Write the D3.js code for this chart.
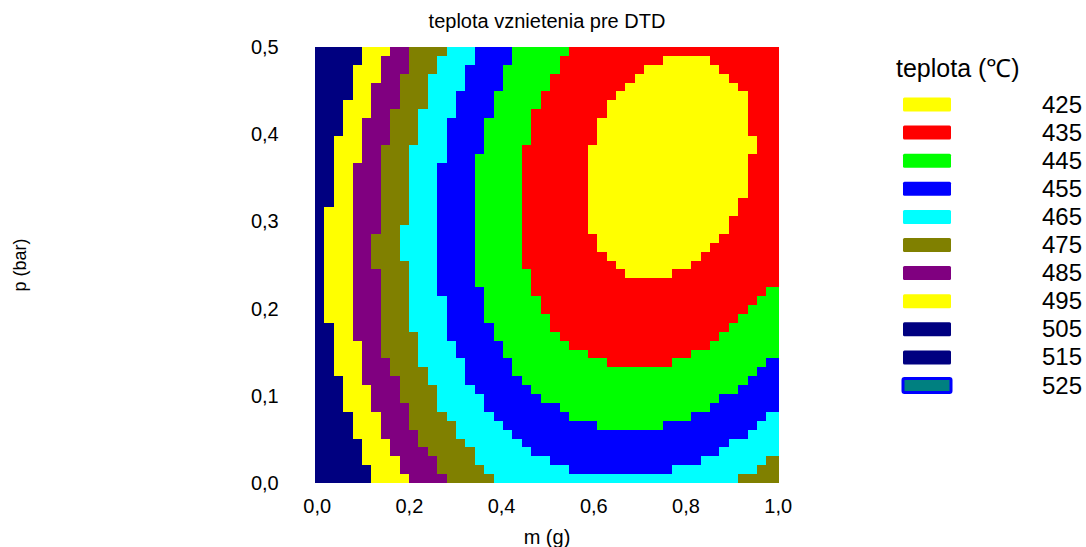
<!DOCTYPE html>
<html><head><meta charset="utf-8">
<script src="https://cdn.jsdelivr.net/npm/d3@7"></script>
<style>body{margin:0;background:#fff} text{font-family:"Liberation Sans",Arial,sans-serif;fill:#000}</style>
</head><body><svg id="c" width="1086" height="547"></svg>
<script>
// Legend levels and colours
const levels = [425,435,445,455,465,475,485,495,505,515,525];
const levelColors = ["#ffff00","#ff0000","#00ff00","#0000ff","#00ffff","#808000","#800080","#ffff00","#000080","#000080","#008080"];
// fill colour of band 0 (coolest, centre) .. band 8 (hottest, left edge)
const bandColors = ["#ffff00","#ff0000","#00ff00","#0000ff","#00ffff","#808000","#800080","#ffff00","#000080"];
const xTicks = [0,0.2,0.4,0.6,0.8,1.0];
const yTicks = [0,0.1,0.2,0.3,0.4,0.5];

// Grid: 49 rows (top p=0.5 -> bottom p=0), 50 columns (m=0 -> 1).
// For band b, cells with band <= b in a row lie in columns [L_b, R_b). null = none in that row.
const band0L = [null,37,35,34,33,32,31,31,30,30,30,29,29,29,29,29,29,29,29,29,29,30,30,31,32,33,null,null,null,null,null,null,null,null,null,null,null,null,null,null,null,null,null,null,null,null,null,null,null];
const band0R = [null,42,43,44,45,46,46,46,46,46,47,47,46,46,46,46,46,45,45,44,44,43,42,41,40,38,null,null,null,null,null,null,null,null,null,null,null,null,null,null,null,null,null,null,null,null,null,null,null];
const band1L = [27,26,26,25,25,24,24,23,23,23,23,22,22,22,22,22,22,22,22,22,22,22,22,22,22,23,23,23,24,24,25,25,26,27,29,31,null,null,null,null,null,null,null,null,null,null,null,null,null];
const band1R = [50,50,50,50,50,50,50,50,50,50,50,50,50,50,50,50,50,50,50,50,50,50,50,50,50,50,50,48,47,46,45,44,43,42,40,38,null,null,null,null,null,null,null,null,null,null,null,null,null];
const band2L = [21,21,20,20,20,19,19,19,18,18,18,18,17,17,17,17,17,17,17,17,17,17,17,17,17,17,17,18,18,18,18,19,19,20,20,21,21,22,23,24,26,27,30,null,null,null,null,null,null];
const band2R = [50,50,50,50,50,50,50,50,50,50,50,50,50,50,50,50,50,50,50,50,50,50,50,50,50,50,50,50,50,50,50,50,50,50,50,48,47,46,45,43,42,40,37,null,null,null,null,null,null];
const band3L = [17,17,16,16,16,15,15,15,14,14,14,14,14,13,13,13,13,13,13,13,13,13,13,13,13,13,13,13,14,14,14,14,14,15,15,16,16,16,17,18,18,19,20,21,22,23,25,27,null];
const band3R = [50,50,50,50,50,50,50,50,50,50,50,50,50,50,50,50,50,50,50,50,50,50,50,50,50,50,50,50,50,50,50,50,50,50,50,50,50,50,50,50,50,48,47,46,44,43,41,38,null];
const band4L = [14,13,13,12,12,12,12,11,11,11,11,10,10,10,10,10,10,10,10,10,9,9,9,9,10,10,10,10,10,10,10,10,11,11,11,11,12,12,13,13,13,14,15,15,16,17,17,18,19];
const band4R = [50,50,50,50,50,50,50,50,50,50,50,50,50,50,50,50,50,50,50,50,50,50,50,50,50,50,50,50,50,50,50,50,50,50,50,50,50,50,50,50,50,50,50,50,50,50,48,47,45];
const band5L = [10,10,10,9,9,9,9,8,8,8,8,7,7,7,7,7,7,7,7,7,7,6,6,6,6,7,7,7,7,7,7,7,7,7,7,8,8,9,9,9,10,10,10,11,11,12,13,13,14];
const band6L = [8,7,7,7,6,6,6,6,5,5,5,5,5,4,4,4,4,4,4,4,4,4,4,4,4,4,4,4,4,4,4,4,4,5,5,5,5,5,6,6,6,7,7,7,8,8,9,9,10];
const band7L = [5,5,4,4,4,4,3,3,3,3,2,2,2,2,2,2,2,2,1,1,1,1,1,1,1,1,1,1,1,1,1,2,2,2,2,2,2,3,3,3,3,4,4,4,5,5,5,6,6];

const nRows = 49, nCols = 50;
const bandL = [band0L,band1L,band2L,band3L,band4L,band5L,band6L,band7L];
const bandR = [band0R,band1R,band2R,band3R,band4R,null,null,null];

const svg = d3.select("#c");
const x = d3.scaleLinear().domain([0,1]).range([316.7,777.7]);
const y = d3.scaleLinear().domain([0,0.5]).range([483,47]);

// grid geometry in data units
const colW = 1/49, colOff = -0.0039;
const colEdge = c => c >= nCols ? 1.0037 : colOff + c*colW;
const rowH = 0.5/nRows;
const rowTop = r => 0.5 - r*rowH;

function bandAt(r,c){
  for (let b=0;b<8;b++){
    const L = bandL[b][r];
    if (L===null) continue;
    const R = bandR[b] ? bandR[b][r] : nCols;
    if (c>=L && c<R) return b;
  }
  return 8;
}

const cells = [];
for (let r=0;r<nRows;r++){
  let start=0, cur=bandAt(r,0);
  for (let c=1;c<=nCols;c++){
    const b = c<nCols ? bandAt(r,c) : -1;
    if (b!==cur){ cells.push({r, c0:start, c1:c, band:cur}); start=c; cur=b; }
  }
}

const g = svg.append("g");
g.selectAll("rect").data(cells).join("rect")
  .attr("x", d=>x(colEdge(d.c0)))
  .attr("width", d=>x(colEdge(d.c1))-x(colEdge(d.c0)))
  .attr("y", d=>y(rowTop(d.r)))
  .attr("height", d=>y(rowTop(d.r+1))-y(rowTop(d.r)))
  .attr("fill", d=>bandColors[d.band])
  .attr("shape-rendering","crispEdges");

const fmt = v => d3.format(".1f")(v).replace(".",",");
const xAxis = svg.append("g").attr("transform","translate(0,483)")
  .call(d3.axisBottom(x).tickValues(xTicks).tickFormat(fmt).tickSize(0).tickPadding(16));
const yAxis = svg.append("g").attr("transform","translate(316.7,0)")
  .call(d3.axisLeft(y).tickValues(yTicks).tickFormat(fmt).tickSize(0).tickPadding(38));
[xAxis,yAxis].forEach(a=>{a.select(".domain").remove(); a.selectAll("text").style("font-size","20px").attr("font-family",null);});

svg.append("text").attr("x",547).attr("y",28).attr("text-anchor","middle").style("font-size","20px").text("teplota vznietenia pre DTD");
svg.append("text").attr("x",547).attr("y",544).attr("text-anchor","middle").style("font-size","20px").text("m (g)");
svg.append("text").attr("transform","translate(26,265) rotate(-90)").attr("text-anchor","middle").style("font-size","18px").text("p (bar)");

// legend
const lg = svg.append("g");
lg.append("text").attr("x",896).attr("y",77).style("font-size","25px").text("teplota (\u2103)");
const items = lg.selectAll("g.item").data(levels).join("g").attr("class","item")
  .attr("transform",(d,i)=>`translate(0,${97.5+i*28.1})`);
items.append("rect").attr("x",903).attr("y",0).attr("width",48).attr("height",14).attr("rx",1.5)
  .attr("fill",(d,i)=>levelColors[i])
  .attr("stroke",(d,i)=>i===levels.length-1?"#0000ff":"none").attr("stroke-width",3);
items.append("text").attr("x",1082).attr("y",15).attr("text-anchor","end").style("font-size","24px").text(d=>d);
</script></body></html>
